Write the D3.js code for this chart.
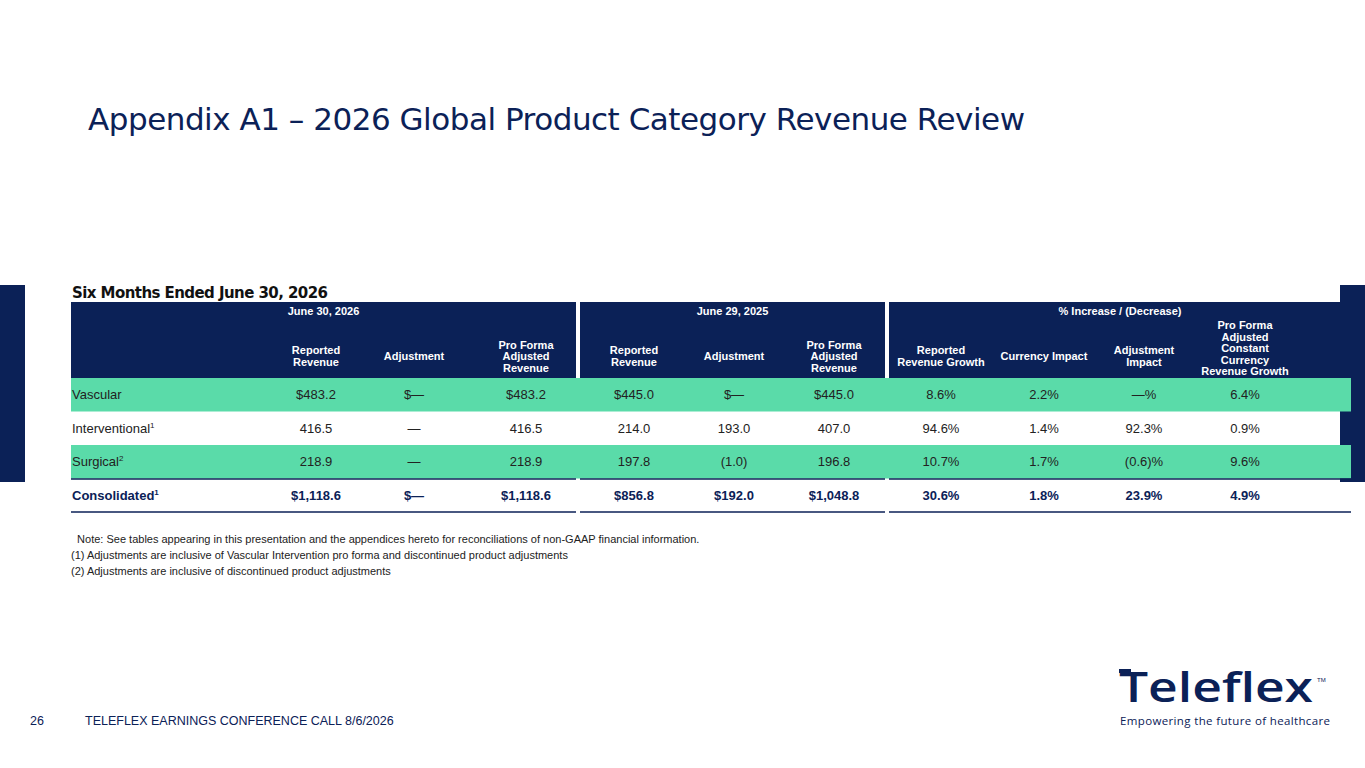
<!DOCTYPE html>
<html><head><meta charset="utf-8">
<script src="https://cdn.jsdelivr.net/npm/d3@7"></script>
<style>body{margin:0;background:#fff}text{font-family:"Liberation Sans",Arial,sans-serif}</style>
</head><body><div id="chart"></div>
<script>
// Data =============================================================
var groups = ["June 30, 2026", "June 29, 2025", "% Increase / (Decrease)"];
var columns = [
  ["Reported", "Revenue"], ["Adjustment"], ["Pro Forma", "Adjusted", "Revenue"],
  ["Reported", "Revenue"], ["Adjustment"], ["Pro Forma", "Adjusted", "Revenue"],
  ["Reported", "Revenue Growth"], ["Currency Impact"], ["Adjustment", "Impact"],
  ["Pro Forma", "Adjusted", "Constant", "Currency", "Revenue Growth"]
];
var rowLabels = ["Vascular", "Interventional", "Surgical", "Consolidated"];
var rowSup = ["", "1", "2", "1"];
var values = [
  ["$483.2", "$\u2014", "$483.2", "$445.0", "$\u2014", "$445.0", "8.6%", "2.2%", "\u2014%", "6.4%"],
  ["416.5", "\u2014", "416.5", "214.0", "193.0", "407.0", "94.6%", "1.4%", "92.3%", "0.9%"],
  ["218.9", "\u2014", "218.9", "197.8", "(1.0)", "196.8", "10.7%", "1.7%", "(0.6)%", "9.6%"],
  ["$1,118.6", "$\u2014", "$1,118.6", "$856.8", "$192.0", "$1,048.8", "30.6%", "1.8%", "23.9%", "4.9%"]
];
var notes = [
  "  Note: See tables appearing in this presentation and the appendices hereto for reconciliations of non-GAAP financial information.",
  "(1) Adjustments are inclusive of Vascular Intervention pro forma and discontinued product adjustments",
  "(2) Adjustments are inclusive of discontinued product adjustments"
];

var navy = "#0b2157", green = "#5adba9";
var svg = d3.select("#chart").append("svg").attr("width", 1365).attr("height", 768);

// side bars
svg.append("rect").attr("x", 0).attr("y", 285).attr("width", 25).attr("height", 197).attr("fill", navy);
svg.append("rect").attr("x", 1340).attr("y", 285).attr("width", 25).attr("height", 197).attr("fill", navy);

svg.append("text").attr("x", 88).attr("y", 130).attr("fill", navy)
  .style("font-family", "Verdana,'DejaVu Sans',sans-serif").attr("font-size", 31).attr("textLength", 937)
  .text("Appendix A1 \u2013 2026 Global Product Category Revenue Review");

svg.append("text").attr("x", 72).attr("y", 298).attr("fill", "#111").attr("font-weight", "bold")
  .style("font-family", "Verdana,'DejaVu Sans',sans-serif").attr("font-size", 15).attr("textLength", 256)
  .text("Six Months Ended June 30, 2026");

// column positions
var colX = [316, 414, 526, 634, 734, 834, 941, 1044, 1144, 1245];
var groupSpan = [[71, 576], [580, 885], [889, 1351]];
var headTop = 302, headBot = 378;
var y = d3.scaleBand().domain(d3.range(rowLabels.length)).range([378, 512]);

groupSpan.forEach(function (g, i) {
  svg.append("rect").attr("x", g[0]).attr("y", headTop).attr("width", g[1] - g[0]).attr("height", headBot - headTop).attr("fill", navy);
  svg.append("text").attr("x", (g[0] + g[1]) / 2).attr("y", 315).attr("text-anchor", "middle")
    .attr("fill", "#fff").attr("font-weight", "bold").attr("font-size", 11).text(groups[i]);
});

columns.forEach(function (c, i) {
  var t = svg.append("text").attr("text-anchor", "middle").attr("fill", "#fff").attr("font-weight", "bold").attr("font-size", 11);
  var last = c.length === 5 ? 375 : 360 + (c.length - 1) * 5.8;
  c.forEach(function (line, j) {
    t.append("tspan").attr("x", colX[i]).attr("y", last - (c.length - 1 - j) * 11.5).text(line);
  });
});

// rows
rowLabels.forEach(function (lab, r) {
  var y0 = y(r), h = y.bandwidth();
  if (r % 2 === 0 && r < 3) {
    svg.append("rect").attr("x", 71).attr("y", y0).attr("width", 1280).attr("height", h).attr("fill", green);
  }
  var bold = r === 3;
  var t = svg.append("text").attr("x", 72).attr("y", y0 + h / 2 + 4.5).attr("font-size", 13)
    .attr("fill", bold ? navy : "#222").attr("font-weight", bold ? "bold" : "normal").text(lab);
  if (rowSup[r]) t.append("tspan").attr("font-size", 8).attr("dy", -5).text(rowSup[r]);
  values[r].forEach(function (v, c) {
    svg.append("text").attr("x", colX[c]).attr("y", y0 + h / 2 + 4.5).attr("text-anchor", "middle")
      .attr("font-size", 13).attr("fill", bold ? navy : "#222").attr("font-weight", bold ? "bold" : "normal").text(v);
  });
});

// rules under surgical and consolidated
[479, 512].forEach(function (ly) {
  groupSpan.forEach(function (g) {
    svg.append("line").attr("x1", g[0]).attr("x2", g[1]).attr("y1", ly).attr("y2", ly).attr("stroke", navy).attr("stroke-width", 1.5);
  });
});

notes.forEach(function (n, i) {
  svg.append("text").attr("x", 71).attr("y", 543 + i * 16).attr("font-size", 11).attr("fill", "#222")
    .attr("xml:space", "preserve").text(n);
});

// footer
svg.append("text").attr("x", 30).attr("y", 725).attr("font-size", 12.5).attr("fill", navy).text("26");
svg.append("text").attr("x", 85).attr("y", 725).attr("font-size", 12.5).attr("fill", navy).text("TELEFLEX EARNINGS CONFERENCE CALL 8/6/2026");

// logo
svg.append("text").attr("x", 1119).attr("y", 702).attr("font-size", 42).attr("fill", navy)
  .style("font-family", "'Open Sans',sans-serif").attr("font-weight", "600").attr("textLength", 194).attr("lengthAdjust", "spacingAndGlyphs").text("Teleflex");
svg.append("rect").attr("x", 1119).attr("y", 669).attr("width", 12).attr("height", 4).attr("fill", navy);
svg.append("text").attr("x", 1317).attr("y", 682).attr("font-size", 6).attr("fill", navy).text("TM");
svg.append("text").attr("x", 1120).attr("y", 725).attr("font-size", 11.5).attr("fill", navy)
  .style("font-family", "'Open Sans',sans-serif").attr("textLength", 210).text("Empowering the future of healthcare");
</script></body></html>
